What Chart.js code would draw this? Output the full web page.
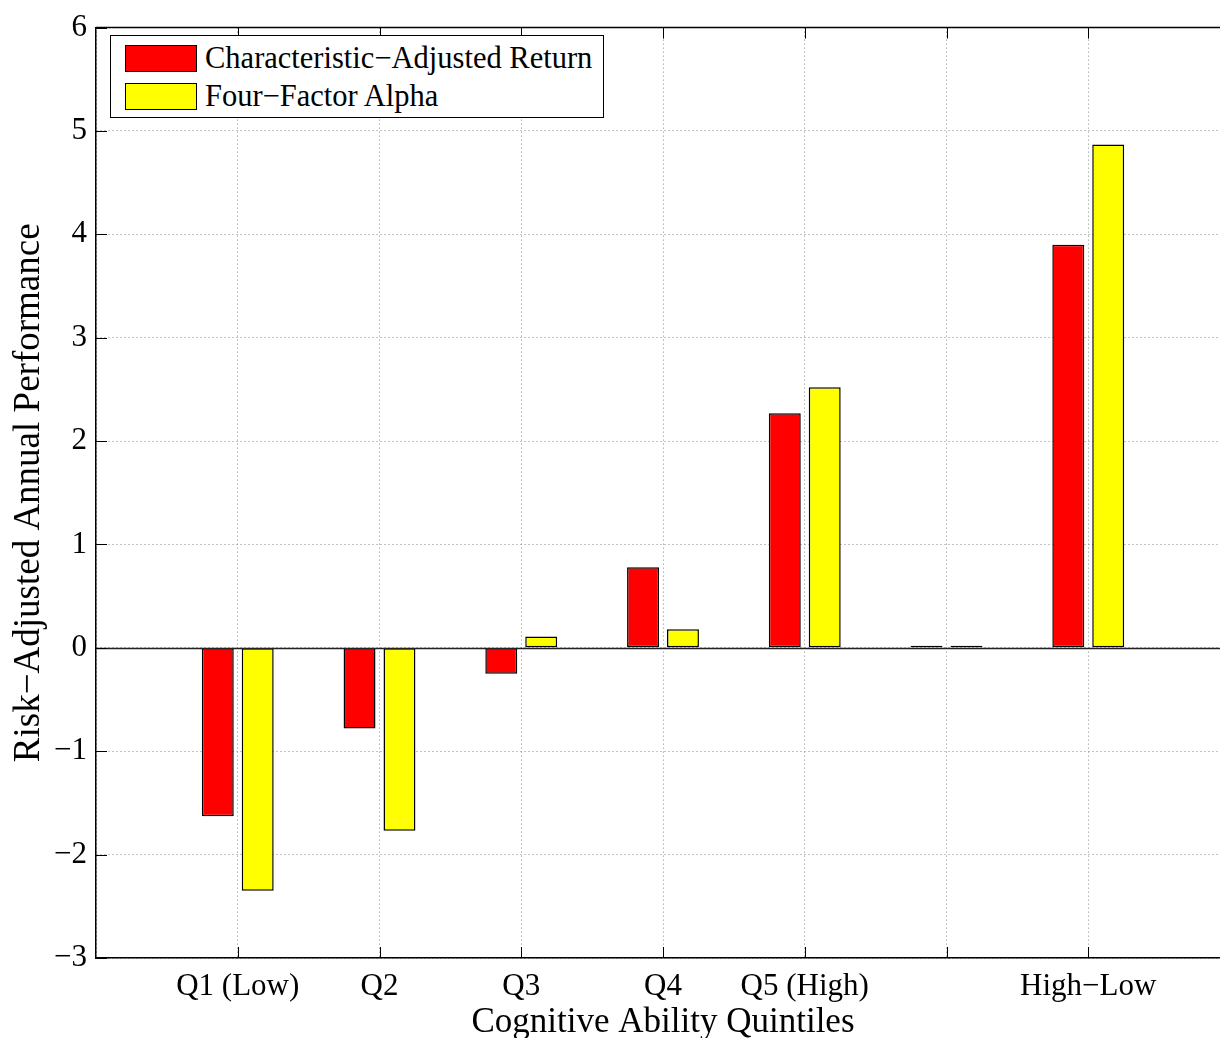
<!DOCTYPE html>
<html lang="en">
<head>
  <meta charset="UTF-8" />
  <title>Cognitive Ability Quintiles</title>
  <script src="https://cdn.jsdelivr.net/npm/chart.js"></script>
  <style>
    html, body { margin: 0; padding: 0; background: #fff; overflow: hidden; }
    #wrap { position: relative; width: 1220px; height: 1038px; overflow: hidden; }
    #grafico { position: absolute; left: 0; top: 0; }
    #legenda {
      position: absolute; left: 110px; top: 35px; width: 492px; height: 81px;
      border: 1.5px solid #000; background: #fff;
      font-family: "Liberation Serif", "DejaVu Serif", serif; font-size: 30.5px; color: #000;
    }
    .item { position: absolute; left: 14px; display: flex; align-items: center; }
    .cor { width: 72px; height: 27px; border: 1px solid #000; box-sizing: border-box; margin-right: 8px; }
  </style>
</head>
<body>
  <div id="wrap">
    <canvas id="grafico" width="1240" height="1044"></canvas>
    <div id="legenda">
      <div class="item" style="top:5px"><div class="cor" style="background:#ff0000"></div><span>Characteristic−Adjusted Return</span></div>
      <div class="item" style="top:43px"><div class="cor" style="background:#ffff00"></div><span>Four−Factor Alpha</span></div>
    </div>
  </div>

  <script>
    const categorias = ["Q1 (Low)", "Q2", "Q3", "Q4", "Q5 (High)", "", "High−Low"];
    const caracteristica = [-1.63, -0.78, -0.25, 0.78, 2.27, 0.02, 3.90];
    const quatroFatores = [-2.35, -1.77, 0.11, 0.18, 2.52, 0.02, 4.87];
    const ticksY = [-3, -2, -1, 0, 1, 2, 3, 4, 5, 6];

    // MATLAB-style x limits: one empty slot on each side
    const labels = [""].concat(categorias, [""]);
    const serie1 = [null].concat(caracteristica, [null]);
    const serie2 = [null].concat(quatroFatores, [null]);

    const fonte = "'Liberation Serif', 'DejaVu Serif', serif";
    const menos = s => String(s).replace("-", "\u2212");

    // inward tick marks, top border and zero baseline
    const moldura = {
      id: "moldura",
      afterDatasetsDraw(chart) {
        const { ctx, chartArea: a, scales } = chart;
        ctx.save();
        const y0 = Math.round(scales.y.getPixelForValue(0)) + 0.5;
        ctx.strokeStyle = "#222";
        ctx.lineWidth = 1.5;
        ctx.beginPath(); ctx.moveTo(a.left, y0); ctx.lineTo(a.right, y0); ctx.stroke();
        ctx.strokeStyle = "#000";
        ctx.lineWidth = 1;
        scales.x.ticks.forEach((t, i) => {
          if (i === 0 || i === labels.length - 1) return;
          const x = Math.round(scales.x.getPixelForTick(i)) + 0.5;
          ctx.beginPath();
          ctx.moveTo(x, a.bottom); ctx.lineTo(x, a.bottom - 11);
          ctx.moveTo(x, a.top); ctx.lineTo(x, a.top + 11);
          ctx.stroke();
        });
        ticksY.forEach(v => {
          const y = Math.round(scales.y.getPixelForValue(v)) + 0.5;
          ctx.beginPath(); ctx.moveTo(a.left, y); ctx.lineTo(a.left + 11, y); ctx.stroke();
        });
        ctx.lineWidth = 1.5;
        ctx.beginPath(); ctx.moveTo(a.left, a.top); ctx.lineTo(a.right, a.top); ctx.stroke();
        ctx.restore();
      }
    };

    new Chart(document.getElementById("grafico").getContext("2d"), {
      type: "bar",
      data: {
        labels,
        datasets: [
          { label: "Characteristic−Adjusted Return", data: serie1, backgroundColor: "#ff0000", borderColor: "#000", borderWidth: 1.5, borderSkipped: false },
          { label: "Four−Factor Alpha", data: serie2, backgroundColor: "#ffff00", borderColor: "#000", borderWidth: 1.5, borderSkipped: false }
        ]
      },
      options: {
        responsive: false,
        animation: false,
        categoryPercentage: 80 / 142,
        barPercentage: 0.8,
        layout: { padding: { top: 22, right: 8, left: 0, bottom: 0 } },
        plugins: { legend: { display: false }, tooltip: { enabled: false } },
        scales: {
          x: {
            offset: false,
            afterFit: s => { s.height = 86; },
            grid: { color: "#888", drawTicks: false, offset: false },
            border: { color: "#000", width: 1.5, dash: [1, 3] },
            ticks: { color: "#000", padding: 10, maxRotation: 0, autoSkip: false, font: { family: fonte, size: 31 } },
            title: { display: true, text: "Cognitive Ability Quintiles", color: "#000", padding: { top: 0, bottom: 0 }, font: { family: fonte, size: 35 } }
          },
          y: {
            min: -3,
            max: 6,
            afterFit: s => { s.width = 96; },
            afterBuildTicks: s => { s.ticks = ticksY.map(v => ({ value: v })); },
            grid: { color: "#888", drawTicks: false },
            border: { color: "#000", width: 1.5, dash: [1, 3] },
            ticks: { color: "#000", padding: 9, callback: v => menos(v), font: { family: fonte, size: 31 } },
            title: { display: true, text: "Risk−Adjusted Annual Performance", color: "#000", padding: { top: 7, bottom: 4 }, font: { family: fonte, size: 37 } }
          }
        }
      },
      plugins: [moldura]
    });
  </script>
</body>
</html>
